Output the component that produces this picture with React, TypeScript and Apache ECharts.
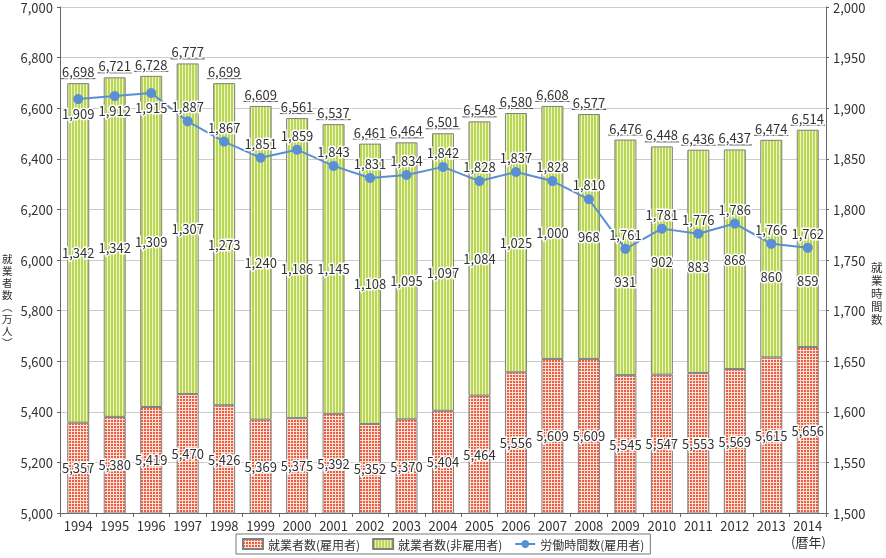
import React, { useEffect, useRef } from 'react';
import * as echarts from 'echarts';

const years = ['1994', '1995', '1996', '1997', '1998', '1999', '2000', '2001', '2002', '2003', '2004', '2005', '2006', '2007', '2008', '2009', '2010', '2011', '2012', '2013', '2014'];
const employees = [5357, 5380, 5419, 5470, 5426, 5369, 5375, 5392, 5352, 5370, 5404, 5464, 5556, 5609, 5609, 5545, 5547, 5553, 5569, 5615, 5656];
const nonEmployees = [1342, 1342, 1309, 1307, 1273, 1240, 1186, 1145, 1108, 1095, 1097, 1084, 1025, 1000, 968, 931, 902, 883, 868, 860, 859];
const totals = [6698, 6721, 6728, 6777, 6699, 6609, 6561, 6537, 6461, 6464, 6501, 6548, 6580, 6608, 6577, 6476, 6448, 6436, 6437, 6474, 6514];
const hours = [1909, 1912, 1915, 1887, 1867, 1851, 1859, 1843, 1831, 1834, 1842, 1828, 1837, 1828, 1810, 1761, 1781, 1776, 1786, 1766, 1762];

const seriesNames = ['就業者数(雇用者)', '就業者数(非雇用者)', '労働時間数(雇用者)'];
const leftMin = 5000;
const leftMax = 7000;
const leftStep = 200;
const rightMin = 1500;
const rightMax = 2000;
const rightStep = 50;

const FONT = '"Noto Sans CJK JP", "Noto Sans", sans-serif';
const TEXT = '#333333';

function fmt(v: number) {
  return Number(v).toLocaleString('en-US');
}

function makePattern(kind: 'red' | 'green') {
  const c = document.createElement('canvas');
  const ctx = c.getContext('2d')!;
  if (kind === 'red') {
    c.width = 3;
    c.height = 3;
    ctx.fillStyle = '#fde2d8';
    ctx.fillRect(0, 0, 3, 3);
    ctx.fillStyle = '#ef5b40';
    ctx.fillRect(0, 0, 2, 2);
  } else {
    c.width = 3;
    c.height = 1;
    ctx.fillStyle = '#eef6c8';
    ctx.fillRect(0, 0, 3, 1);
    ctx.fillStyle = '#bad656';
    ctx.fillRect(0, 0, 2, 1);
  }
  return c;
}

export default function App() {
  const ref = useRef<HTMLDivElement>(null);
  useEffect(() => {
    if (!ref.current) return;
    const chart = echarts.init(ref.current, undefined, { renderer: 'svg' });
    const redPat = { image: makePattern('red'), repeat: 'repeat' };
    const greenPat = { image: makePattern('green'), repeat: 'repeat' };

    const labelText = (text: string, x: number, y: number, va = 'middle') => ({
      type: 'text',
      style: {
        text,
        x,
        y,
        align: 'center',
        verticalAlign: va,
        fill: TEXT,
        fontSize: 13,
        fontFamily: FONT,
        stroke: '#ffffff',
        lineWidth: 3,
      },
    });

    const option: any = {
      animation: false,
      textStyle: { fontFamily: FONT },
      grid: { left: 60, right: 60, top: 7, bottom: 45 },
      legend: {
        data: [
          { name: seriesNames[0], icon: 'rect' },
          { name: seriesNames[1], icon: 'rect' },
          { name: seriesNames[2] },
        ],
        left: 236,
        bottom: 4,
        itemWidth: 20,
        itemHeight: 10,
        itemGap: 12,
        padding: [4, 6],
        borderColor: '#777',
        borderWidth: 1,
        borderRadius: 0,
        textStyle: { fontSize: 12, color: TEXT, fontFamily: FONT },
      },
      xAxis: {
        type: 'category',
        data: years,
        axisLine: { lineStyle: { color: '#666' } },
        axisTick: { show: true, length: 4, lineStyle: { color: '#666' } },
        axisLabel: { fontSize: 13, color: TEXT, margin: 6, interval: 0, fontFamily: FONT },
      },
      yAxis: [
        {
          type: 'value',
          min: leftMin,
          max: leftMax,
          interval: leftStep,
          axisLine: { show: true, lineStyle: { color: '#666' } },
          axisTick: { show: true, length: 3, lineStyle: { color: '#666' } },
          axisLabel: { fontSize: 13, color: TEXT, margin: 7, formatter: (v: number) => fmt(v), fontFamily: FONT },
          splitLine: { lineStyle: { color: '#cccccc' } },
        },
        {
          type: 'value',
          min: rightMin,
          max: rightMax,
          interval: rightStep,
          position: 'right',
          axisLine: { show: true, lineStyle: { color: '#666' } },
          axisTick: { show: true, length: 3, lineStyle: { color: '#666' } },
          axisLabel: { fontSize: 13, color: TEXT, margin: 7, formatter: (v: number) => fmt(v), fontFamily: FONT },
          splitLine: { show: false },
        },
      ],
      graphic: [
        {
          type: 'text',
          left: 2,
          top: 252,
          style: {
            text: '就\n業\n者\n数\n︵\n万\n人\n︶',
            fontSize: 10.5,
            lineHeight: 12,
            fill: TEXT,
            fontFamily: FONT,
          },
        },
        {
          type: 'text',
          left: 871,
          top: 260,
          style: {
            text: '就\n業\n時\n間\n数',
            fontSize: 11.5,
            lineHeight: 13,
            fill: TEXT,
            fontFamily: FONT,
          },
        },
        {
          type: 'text',
          left: 791,
          top: 535,
          style: { text: '(暦年)', fontSize: 13, fill: TEXT, fontFamily: FONT },
        },
      ],
      series: [
        {
          name: seriesNames[0],
          type: 'bar',
          stack: 'workers',
          barWidth: 22,
          data: employees,
          itemStyle: { color: redPat, borderColor: '#808080', borderWidth: 1 },
          clip: true,
          z: 2,
        },
        {
          name: seriesNames[1],
          type: 'bar',
          stack: 'workers',
          barWidth: 22,
          data: nonEmployees,
          itemStyle: { color: greenPat, borderColor: '#808080', borderWidth: 1 },
          clip: true,
          z: 2,
        },
        {
          name: seriesNames[2],
          type: 'line',
          yAxisIndex: 1,
          data: hours.map((v, i) => (i < 3 ? { value: v, label: { position: 'bottom' } } : v)),
          symbol: 'circle',
          symbolSize: 10,
          lineStyle: { color: '#5b8fd4', width: 2 },
          itemStyle: { color: '#5b8fd4' },
          z: 5,
          label: {
            show: true,
            position: 'top',
            distance: 3,
            fontSize: 13,
            color: TEXT,
            fontFamily: FONT,
            textBorderColor: '#ffffff',
            textBorderWidth: 3,
            formatter: (p: any) => fmt(p.value),
          },
        },
        {
          type: 'custom',
          name: 'labels',
          yAxisIndex: 0,
          z: 10,
          silent: true,
          clip: false,
          encode: { x: 0, y: 1 },
          data: years.map((_, i) => [i, employees[i], nonEmployees[i], totals[i], hours[i]]),
          renderItem: (params: any, api: any) => {
            const i = api.value(0);
            const emp = api.value(1);
            const non = api.value(2);
            const tot = api.value(3);
            const hr = api.value(4);
            const base = api.coord([i, leftMin]);
            const pe = api.coord([i, emp]);
            const pt = api.coord([i, emp + non]);
            const w = api.size([1, 0])[0];
            const x = base[0];
            // hours point height (right axis) mapped onto the left axis, used to keep labels clear of the line
            const hrAsLeft = leftMin + ((hr - rightMin) / (rightMax - rightMin)) * (leftMax - leftMin);
            const ph = api.coord([i, hrAsLeft]);
            const greenY = Math.max((pe[1] + pt[1]) / 2, ph[1] + 33);
            return {
              type: 'group',
              children: [
                labelText(fmt(emp), x, (base[1] + pe[1]) / 2),
                labelText(fmt(non), x, greenY),
                {
                  type: 'line',
                  shape: { x1: x - w / 2 + 1, y1: pt[1] - 4.5, x2: x + w / 2 - 1, y2: pt[1] - 4.5 },
                  style: { stroke: '#555', lineWidth: 1 },
                },
                labelText(fmt(tot), x, pt[1] - 5, 'bottom'),
              ],
            };
          },
        },
      ],
    };
    chart.setOption(option);
    return () => chart.dispose();
  }, []);
  return <div ref={ref} style={{ position: 'fixed', left: 0, top: 0, width: 886, height: 558 }} />;
}
